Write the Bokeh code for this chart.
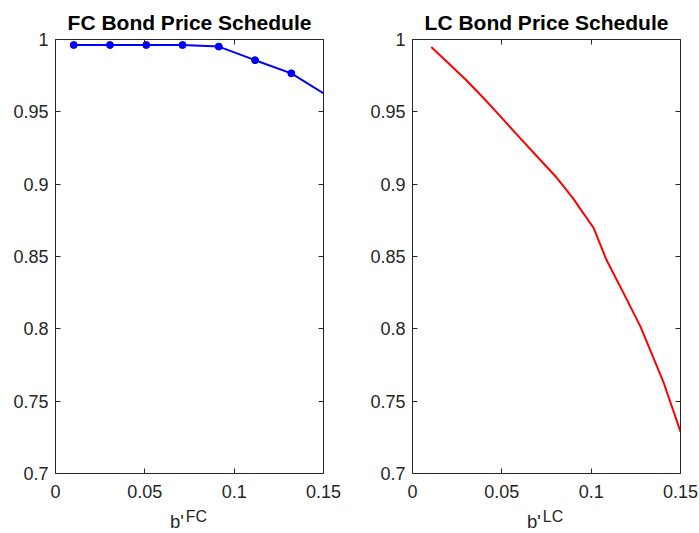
from bokeh.plotting import figure
from bokeh.layouts import row, column
from bokeh.models import LinearAxis, FixedTicker, CustomJSTickFormatter, Range1d, Div
from bokeh.embed import file_html
from bokeh.resources import INLINE

# ---- data ----
fc_x = [0.0102, 0.0305, 0.0508, 0.0711, 0.0914, 0.1117, 0.1320, 0.1522]
fc_y = [0.9962, 0.9962, 0.9962, 0.9962, 0.9951, 0.9857, 0.9766, 0.9611]

lc_x = [0.0105, 0.02, 0.03, 0.04, 0.05, 0.06, 0.07, 0.08, 0.09, 0.095,
        0.1015, 0.1084, 0.118, 0.1276, 0.1407, 0.15]
lc_y = [0.9948, 0.9838, 0.9720, 0.9592, 0.9458, 0.9322, 0.9188, 0.9055, 0.8900, 0.8810,
        0.8695, 0.8481, 0.8250, 0.8015, 0.7624, 0.7289]

x_ticks = [0, 0.05, 0.1, 0.15]
y_ticks = [0.7, 0.75, 0.8, 0.85, 0.9, 0.95, 1.0]
titles = ["FC Bond Price Schedule", "LC Bond Price Schedule"]
sups = ["FC", "LC"]

AX = "#262626"
FONT = "Liberation Sans"

num_fmt = "return Number(tick.toFixed(4)).toString();"
empty_fmt = "return '';"


def style_axis(ax, labels=True):
    ax.axis_line_color = AX
    ax.major_tick_line_color = AX
    ax.major_tick_in = 5
    ax.major_tick_out = 0
    ax.minor_tick_line_color = None
    ax.major_label_text_color = AX
    ax.major_label_text_font = FONT
    ax.major_label_text_font_size = "18px"
    if not labels:
        ax.formatter = CustomJSTickFormatter(code=empty_fmt)
        ax.major_label_standoff = 0
    else:
        ax.formatter = CustomJSTickFormatter(code=num_fmt)


def make(title, min_left, min_right):
    p = figure(frame_width=268, frame_height=434,
               x_range=Range1d(0, 0.15), y_range=Range1d(0.7, 1.0),
               output_backend="svg", toolbar_location=None,
               min_border_left=min_left, min_border_right=min_right,
               min_border_top=39, min_border_bottom=35)
    p.grid.visible = False
    p.outline_line_color = None
    p.background_fill_color = "white"
    p.border_fill_color = "white"

    p.title.text = title
    p.title.align = "center"
    p.title.text_font = FONT
    p.title.text_font_size = "21px"
    p.title.text_font_style = "bold"
    p.title.text_color = "black"
    p.title.standoff = 11

    xa = p.xaxis[0]
    xa.ticker = FixedTicker(ticks=x_ticks)
    style_axis(xa)
    xa.major_label_standoff = 11
    ya = p.yaxis[0]
    ya.ticker = FixedTicker(ticks=y_ticks)
    style_axis(ya)
    ya.major_label_standoff = 7

    top = LinearAxis(ticker=FixedTicker(ticks=x_ticks))
    style_axis(top, labels=False)
    p.add_layout(top, "above")
    right = LinearAxis(ticker=FixedTicker(ticks=y_ticks))
    style_axis(right, labels=False)
    p.add_layout(right, "right")
    return p


def xlabel(sup, width):
    html = ("<div style=\"font-family:'Liberation Sans';font-size:18.5px;line-height:22px;"
            "color:#262626;padding-left:170px;padding-top:3px;white-space:nowrap;margin:0;\">b'"
            "<span style=\"position:relative;top:-6px;font-size:16px;margin-left:2px;\">"
            + sup + "</span></div>")
    return Div(text=html, width=width, height=25, margin=(0, 0, 0, 0))


p1 = make(titles[0], 55, 34)
p1.line(fc_x, fc_y, line_color="#0000FF", line_width=2)
p1.scatter(fc_x, fc_y, size=7, fill_color="#0000FF", line_color="#0000FF")

p2 = make(titles[1], 55, 19)
p2.line(lc_x, lc_y, line_color="#FF0000", line_width=2)

layout = column(row(p1, p2),
                row(xlabel(sups[0], 357), xlabel(sups[1], 342)))
open("out.html", "w").write(file_html(layout, INLINE))
